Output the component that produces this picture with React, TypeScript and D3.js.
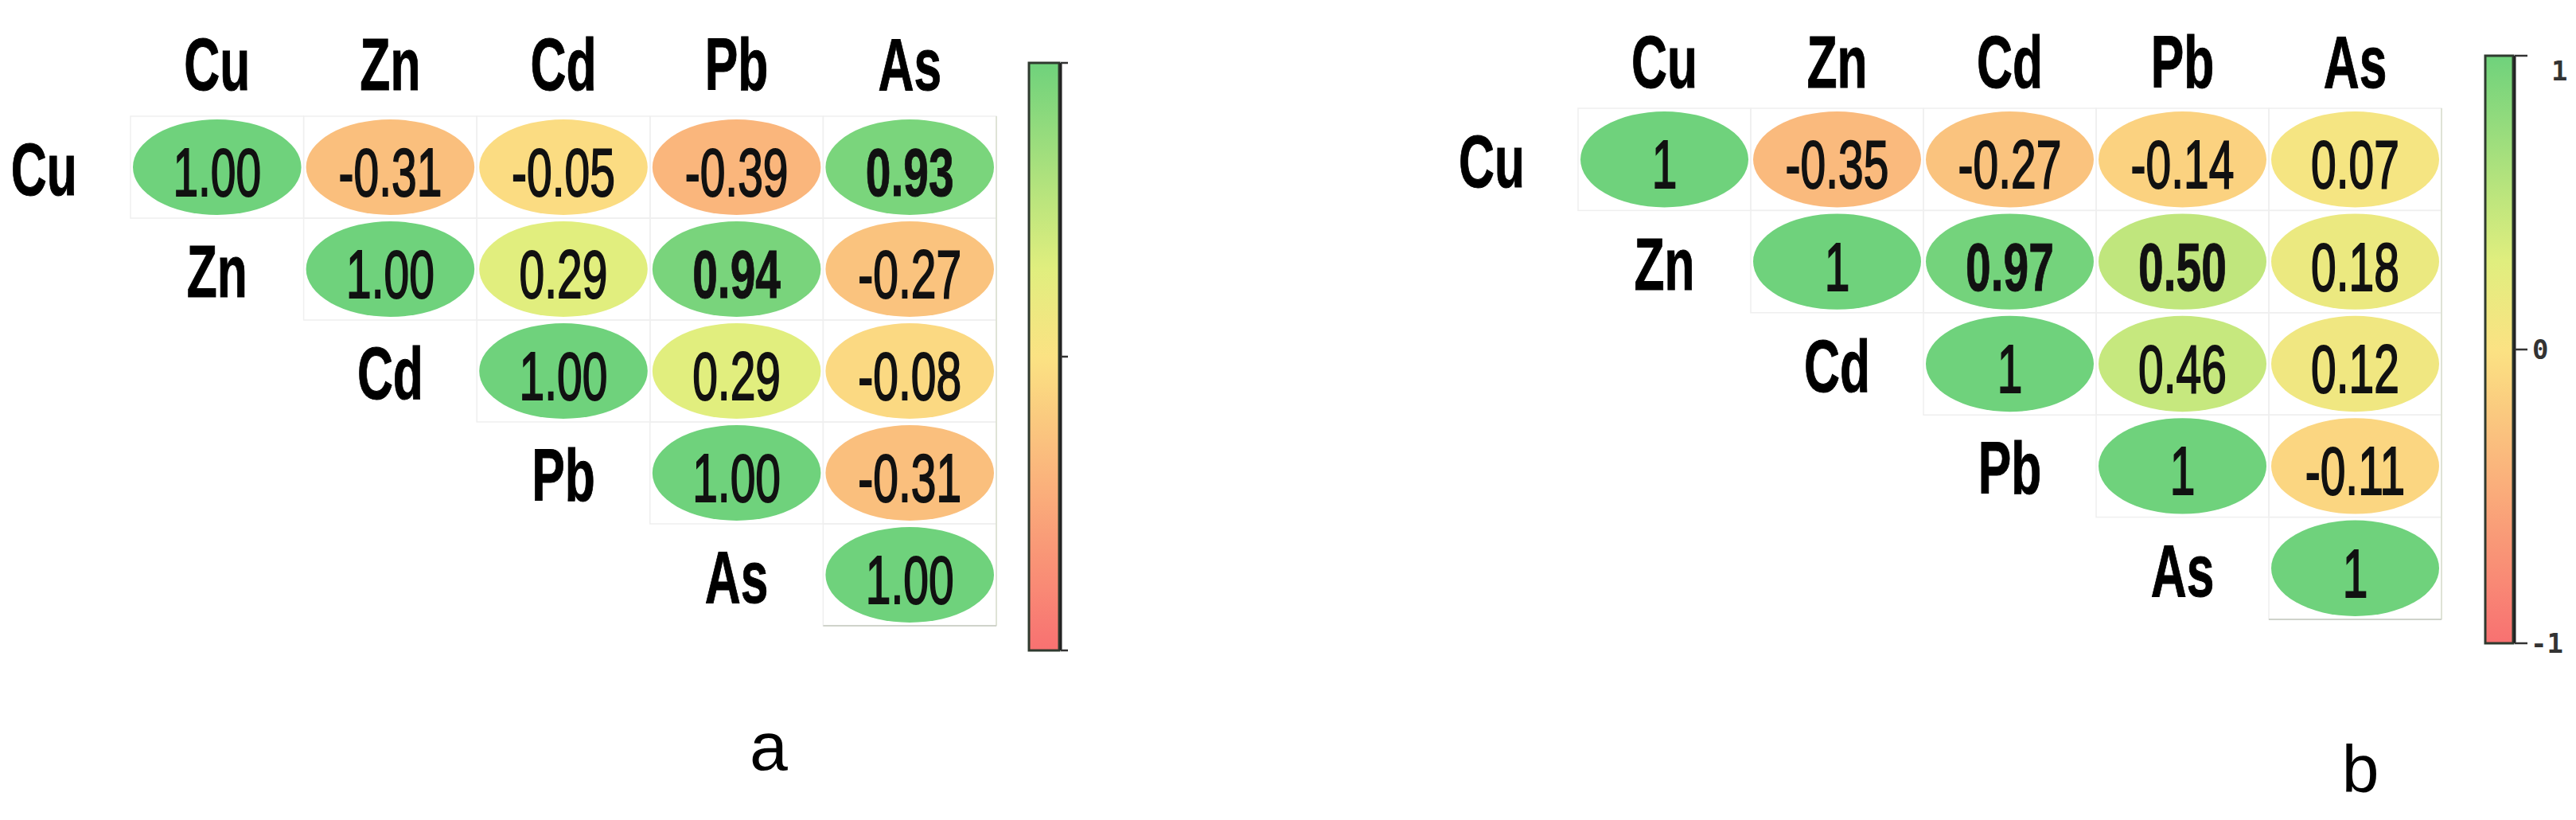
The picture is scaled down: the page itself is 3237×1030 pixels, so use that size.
import React from "react";
import * as d3 from "d3";

// element names, same order on both axes
const elements = ["Cu", "Zn", "Cd", "Pb", "As"];

// upper triangle, row i starts at column i
const valuesA = [
  [1.0, -0.31, -0.05, -0.39, 0.93],
  [1.0, 0.29, 0.94, -0.27],
  [1.0, 0.29, -0.08],
  [1.0, -0.31],
  [1.0],
];
const valuesB = [
  [1, -0.35, -0.27, -0.14, 0.07],
  [1, 0.97, 0.5, 0.18],
  [1, 0.46, 0.12],
  [1, -0.11],
  [1],
];

// cells printed in bold
const boldA = [["Cu", "As"], ["Zn", "Pb"]];
const boldB = [["Zn", "Cd"], ["Zn", "Pb"]];

const barTicks = [-1, 0, 1];
const barTickLabelsB = ["-1", "0", "1"];

const W = 3237;
const H = 1030;
const SQUEEZE = 0.67;

const color = d3
  .scaleLinear<string>()
  .domain([-1, 0, 0.3, 1])
  .range(["#f87171", "#fbe283", "#e0ee7e", "#6fd27c"])
  .interpolate(d3.interpolateRgb);

function Panel({ values, bold, xRange, yRange, headerY, fmtDiag }) {
  const x = d3.scaleBand().domain(elements).range(xRange);
  const y = d3.scaleBand().domain(elements).range(yRange);
  const bw = x.bandwidth();
  const bh = y.bandwidth();
  const isBold = (r, c) => bold.some((b) => b[0] === r && b[1] === c);

  const cells = [];
  values.forEach((row, i) => {
    row.forEach((v, k) => {
      const j = i + k;
      cells.push({ r: elements[i], c: elements[j], v, diag: k === 0 });
    });
  });

  return (
    <g>
      {/* faint cell grid */}
      {cells.map((d) => (
        <rect
          key={"g" + d.r + d.c}
          x={x(d.c)}
          y={y(d.r)}
          width={bw}
          height={bh}
          fill="none"
          stroke="#efefef"
          strokeWidth={1.5}
        />
      ))}
      <line x1={xRange[1]} x2={xRange[1]} y1={yRange[0]} y2={yRange[1]} stroke="#dfe3d6" strokeWidth={2} />
      <line x1={x("As")} x2={xRange[1]} y1={yRange[1]} y2={yRange[1]} stroke="#cfd3cb" strokeWidth={2} />

      {/* column headers */}
      {elements.map((e) => (
        <text
          key={"h" + e}
          transform={`translate(${x(e) + bw / 2},${headerY}) scale(${SQUEEZE},1)`}
          textAnchor="middle"
          fontFamily="Liberation Sans, Arial, sans-serif"
          fontWeight="bold"
          fontSize={93}
          stroke="#000"
          strokeWidth={1}
        >
          {e}
        </text>
      ))}

      {/* row labels, one column left of the diagonal */}
      {elements.map((e) => (
        <text
          key={"r" + e}
          transform={`translate(${x(e) - bw / 2},${y(e) + bh / 2 + 35}) scale(${SQUEEZE},1)`}
          textAnchor="middle"
          fontFamily="Liberation Sans, Arial, sans-serif"
          fontWeight="bold"
          fontSize={93}
          stroke="#000"
          strokeWidth={1}
        >
          {e}
        </text>
      ))}

      {cells.map((d) => (
        <ellipse
          key={"e" + d.r + d.c}
          cx={x(d.c) + bw / 2}
          cy={y(d.r) + bh / 2}
          rx={bw / 2 - 3}
          ry={bh / 2 - 4}
          fill={color(d.v)}
        />
      ))}
      {cells.map((d) => (
        <text
          key={"t" + d.r + d.c}
          transform={`translate(${x(d.c) + bw / 2},${y(d.r) + bh / 2 + 36}) scale(${SQUEEZE},1)`}
          textAnchor="middle"
          fontFamily="Liberation Sans, Arial, sans-serif"
          fontWeight={isBold(d.r, d.c) ? "bold" : "normal"}
          fontSize={85}
          fill="#111"
          stroke="#111"
          strokeWidth={isBold(d.r, d.c) ? 1 : 2}
        >
          {d.diag ? fmtDiag(d.v) : d.v.toFixed(2)}
        </text>
      ))}
    </g>
  );
}

function ColorBar({ x0, x1, yRange, tickLen, labels, id }) {
  const s = d3.scaleLinear().domain([-1, 1]).range(yRange);
  const stops = d3.range(0, 1.0001, 0.05);
  return (
    <g>
      <defs>
        <linearGradient id={id} x1="0" y1="1" x2="0" y2="0">
          {stops.map((t) => (
            <stop key={t} offset={t} stopColor={color(-1 + 2 * t)} />
          ))}
        </linearGradient>
      </defs>
      <rect
        x={x0}
        y={s(1)}
        width={x1 - x0}
        height={s(-1) - s(1)}
        fill={`url(#${id})`}
        stroke="#2f3a2f"
        strokeWidth={3}
      />
      <line x1={x1 + 2} x2={x1 + 2} y1={s(1)} y2={s(-1)} stroke="#222" strokeWidth={3} />
      {barTicks.map((t) => (
        <line key={t} x1={x1 + 2} x2={x1 + 2 + tickLen} y1={s(t)} y2={s(t)} stroke="#333" strokeWidth={2.5} />
      ))}
      {labels &&
        barTicks.map((t, i) => (
          <text
            key={"l" + t}
            x={x1 + 2 + tickLen + (t === 1 ? 30 : t === 0 ? 6 : 4)}
            y={s(t) + (t === 1 ? 31 : 12)}
            fontFamily="DejaVu Sans Mono, monospace"
            fontWeight="bold"
            fontSize={34}
            fill="#333"
          >
            {labels[i]}
          </text>
        ))}
    </g>
  );
}

export default function App() {
  return (
    <svg
      width={W}
      height={H}
      viewBox={`0 0 ${W} ${H}`}
      style={{ position: "absolute", left: 0, top: 0, background: "#fff" }}
    >
      <rect width={W} height={H} fill="#fff" />
      <Panel
        values={valuesA}
        bold={boldA}
        xRange={[164, 1252]}
        yRange={[146, 786]}
        headerY={113}
        fmtDiag={(v) => v.toFixed(2)}
      />
      <ColorBar x0={1293} x1={1331} yRange={[817, 79]} tickLen={9} labels={null} id="barA" />
      <Panel
        values={valuesB}
        bold={boldB}
        xRange={[1983, 3068]}
        yRange={[136, 778]}
        headerY={110}
        fmtDiag={(v) => String(v)}
      />
      <ColorBar x0={3123} x1={3158} yRange={[808, 70]} tickLen={16} labels={barTickLabelsB} id="barB" />

      <text x={966} y={967} textAnchor="middle" fontFamily="Liberation Sans, Arial, sans-serif" fontSize={86}>
        a
      </text>
      <text x={2966} y={995} textAnchor="middle" fontFamily="Liberation Sans, Arial, sans-serif" fontSize={84}>
        b
      </text>
    </svg>
  );
}
